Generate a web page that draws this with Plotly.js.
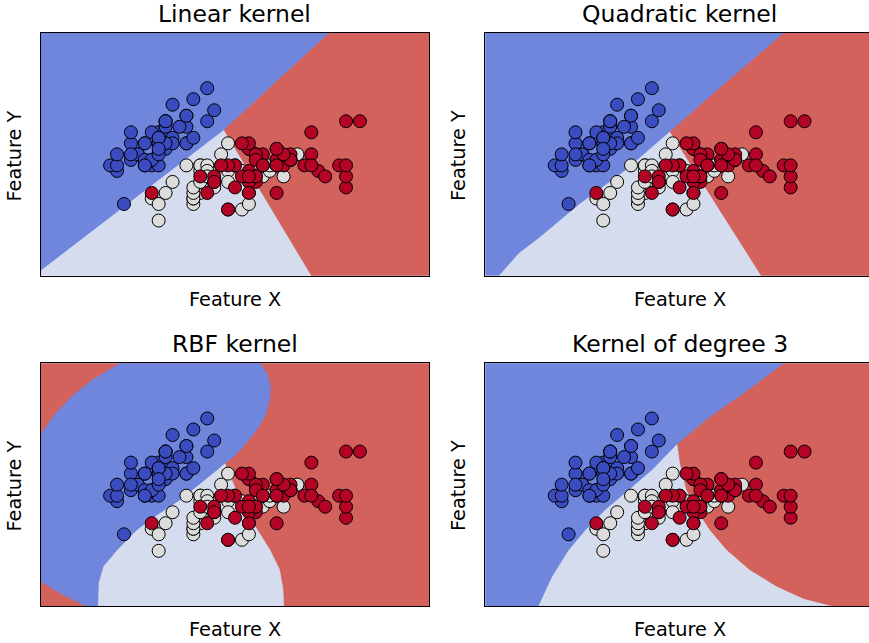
<!DOCTYPE html>
<html><head><meta charset="utf-8">
<script src="https://cdn.plot.ly/plotly-3.0.1.min.js"></script>
<style>html,body{margin:0;padding:0;background:#fff}#chart{width:869px;height:643px}</style>
</head><body><div id="chart"></div>
<script>
// ---- data: iris sepal length (Feature X) / sepal width (Feature Y) ----
const setosaX = [5.1,4.9,4.7,4.6,5.0,5.4,4.6,5.0,4.4,4.9,5.4,4.8,4.8,4.3,5.8,5.7,5.4,5.1,5.7,5.1,5.4,5.1,4.6,5.1,4.8,5.0,5.0,5.2,5.2,4.7,4.8,5.4,5.2,5.5,4.9,5.0,5.5,4.9,4.4,5.1,5.0,4.5,4.4,5.0,5.1,4.8,5.1,4.6,5.3,5.0];
const setosaY = [3.5,3.0,3.2,3.1,3.6,3.9,3.4,3.4,2.9,3.1,3.7,3.4,3.0,3.0,4.0,4.4,3.9,3.5,3.8,3.8,3.4,3.7,3.6,3.3,3.4,3.0,3.4,3.5,3.4,3.2,3.1,3.4,4.1,4.2,3.1,3.2,3.5,3.6,3.0,3.4,3.5,2.3,3.2,3.5,3.8,3.0,3.8,3.2,3.7,3.3];
const versicolorX = [7.0,6.4,6.9,5.5,6.5,5.7,6.3,4.9,6.6,5.2,5.0,5.9,6.0,6.1,5.6,6.7,5.6,5.8,6.2,5.6,5.9,6.1,6.3,6.1,6.4,6.6,6.8,6.7,6.0,5.7,5.5,5.5,5.8,6.0,5.4,6.0,6.7,6.3,5.6,5.5,5.5,6.1,5.8,5.0,5.6,5.7,5.7,6.2,5.1,5.7];
const versicolorY = [3.2,3.2,3.1,2.3,2.8,2.8,3.3,2.4,2.9,2.7,2.0,3.0,2.2,2.9,2.9,3.1,3.0,2.7,2.2,2.5,3.2,2.8,2.5,2.8,2.9,3.0,2.8,3.0,2.9,2.6,2.4,2.4,2.7,2.7,3.0,3.4,3.1,2.3,3.0,2.5,2.6,3.0,2.6,2.3,2.7,3.0,2.9,2.9,2.5,2.8];
const virginicaX = [6.3,5.8,7.1,6.3,6.5,7.6,4.9,7.3,6.7,7.2,6.5,6.4,6.8,5.7,5.8,6.4,6.5,7.7,7.7,6.0,6.9,5.6,7.7,6.3,6.7,7.2,6.2,6.1,6.4,7.2,7.4,7.9,6.4,6.3,6.1,7.7,6.3,6.4,6.0,6.9,6.7,6.9,5.8,6.8,6.7,6.7,6.3,6.5,6.2,5.9];
const virginicaY = [3.3,2.7,3.0,2.9,3.0,3.0,2.5,2.9,2.5,3.6,3.2,2.7,3.0,2.5,2.8,3.2,3.0,3.8,2.6,2.2,3.2,2.8,2.8,2.7,3.3,3.2,2.8,3.0,2.8,3.0,2.8,3.8,2.8,2.8,2.6,3.0,3.4,3.1,3.0,3.1,3.1,3.1,2.7,3.2,3.3,3.0,2.5,3.0,3.4,3.0];

const panelTitles = ['Linear kernel', 'Quadratic kernel', 'RBF kernel', 'Kernel of degree 3'];
const xLabel = 'Feature X';
const yLabel = 'Feature Y';

// ---- decision boundaries (data coordinates) ----
const linearBlueWhiteX = [3.3, 5.94];            const linearBlueWhiteY = [1.10, 3.65];
const linearBlueRedX   = [5.94, 7.445];          const linearBlueRedY   = [3.65, 5.4];
const linearWhiteRedX  = [5.94, 7.205];          const linearWhiteRedY  = [3.65, 1.0];

const quadBlueWhiteX = [3.49, 3.78, 4.09, 4.66, 5.31, 5.60, 5.96];
const quadBlueWhiteY = [1.0, 1.41, 1.71, 2.31, 2.91, 3.22, 3.62];
const quadBlueRedX   = [5.96, 6.73, 7.594];      const quadBlueRedY   = [3.62, 4.47, 5.4];
const quadWhiteRedX  = [5.96, 6.59, 7.28];       const quadWhiteRedY  = [3.62, 2.37, 1.0];

const rbfTopLeftX    = [3.3, 3.5, 3.75, 4.05, 4.45];
const rbfTopLeftY    = [4.10, 4.47, 4.80, 5.10, 5.4];
const rbfBottomLeftX = [3.3, 3.6, 3.96];
const rbfBottomLeftY = [1.45, 1.22, 1.0];
const rbfBlueWhiteX  = [4.12, 4.13, 4.20, 4.40, 4.68, 4.97, 5.31, 5.60, 5.84, 5.95];
const rbfBlueWhiteY  = [1.0, 1.42, 1.72, 2.02, 2.38, 2.65, 2.93, 3.23, 3.47, 3.59];
const rbfBlueRedX    = [5.95, 6.03, 6.22, 6.41, 6.53, 6.60, 6.61, 6.56, 6.46];
const rbfBlueRedY    = [3.59, 3.65, 3.89, 4.19, 4.44, 4.74, 4.98, 5.22, 5.4];
const rbfWhiteRedX   = [5.95, 6.03, 6.15, 6.36, 6.60, 6.74, 6.79, 6.80];
const rbfWhiteRedY   = [3.59, 3.35, 2.99, 2.50, 2.02, 1.66, 1.30, 1.0];

const cubicBlueWhiteX = [4.06, 4.26, 4.50, 4.74, 5.02, 5.36, 5.70, 6.07];
const cubicBlueWhiteY = [1.0, 1.54, 2.02, 2.38, 2.74, 3.11, 3.47, 3.95];
const cubicBlueRedX   = [6.07, 6.54, 7.02, 7.594];
const cubicBlueRedY   = [3.95, 4.44, 4.86, 5.4];
const cubicWhiteRedX  = [6.07, 6.11, 6.20, 6.35, 6.54, 6.78, 7.11, 7.50, 7.88, 8.31];
const cubicWhiteRedY  = [3.95, 3.59, 3.11, 2.74, 2.38, 2.02, 1.66, 1.36, 1.14, 1.0];

// ---- styles ----
const REGION_BLUE = '#6f86dc', REGION_LIGHT = '#d4dcee', REGION_RED = '#d3625d';
const PT_BLUE = '#3b4cc0', PT_LIGHT = '#dddcdc', PT_RED = '#b40426';

const allX = setosaX.concat(versicolorX, virginicaX);
const allY = setosaY.concat(versicolorY, virginicaY);
const XMIN = Math.min(...allX) - 1, XMAX = Math.max(...allX) + 1;
const YMIN = Math.min(...allY) - 1, YMAX = Math.max(...allY) + 1;

const W = 869, H = 643;
const leftL = 40.7, leftR = 429.3, rightL = 485.3, fullW = leftR - leftL;
const topT = 33, topB = 275.7, botT = 363.3, botB = 606;
const rightXMax = XMIN + (XMAX - XMIN) * (W - rightL) / fullW;

function region(xs, ys, color, n) {
  const s = n === 1 ? '' : String(n);
  return {type:'scatter', mode:'lines', x: xs, y: ys, fill:'toself', fillcolor: color,
    line:{width:0.8, color: color}, hoverinfo:'skip', showlegend:false, xaxis:'x'+s, yaxis:'y'+s};
}
const rev = a => a.slice().reverse();

function threeWay(bwX, bwY, brX, brY, wrX, wrY, n) {
  const red = region(brX.concat([XMAX, XMAX], rev(wrX)), brY.concat([YMAX, YMIN], rev(wrY)), REGION_RED, n);
  const blue = region(bwX.concat(brX.slice(1), [XMIN, XMIN]), bwY.concat(brY.slice(1), [YMAX, YMIN]), REGION_BLUE, n);
  return [red, blue];
}

function points(n) {
  const s = n === 1 ? '' : String(n);
  const mk = (xs, ys, c) => ({type:'scatter', mode:'markers', x: xs, y: ys, xaxis:'x'+s, yaxis:'y'+s,
    marker:{size:13, color:c, line:{color:'#000', width:1}}, hoverinfo:'skip', showlegend:false, cliponaxis:false});
  return [mk(setosaX, setosaY, PT_BLUE), mk(versicolorX, versicolorY, PT_LIGHT), mk(virginicaX, virginicaY, PT_RED)];
}

const traces = [];
traces.push(...threeWay(linearBlueWhiteX, linearBlueWhiteY, linearBlueRedX, linearBlueRedY, linearWhiteRedX, linearWhiteRedY, 1));
traces.push(...points(1));
traces.push(...threeWay(quadBlueWhiteX, quadBlueWhiteY, quadBlueRedX, quadBlueRedY, quadWhiteRedX, quadWhiteRedY, 2));
traces.push(...points(2));
// RBF: red background, white and blue regions on top
traces.push(region(rbfBlueWhiteX.concat(rbfWhiteRedX.slice(1)), rbfBlueWhiteY.concat(rbfWhiteRedY.slice(1)), REGION_LIGHT, 3));
traces.push(region(rbfTopLeftX.concat(rev(rbfBlueRedX), rev(rbfBlueWhiteX), rev(rbfBottomLeftX)),
                   rbfTopLeftY.concat(rev(rbfBlueRedY), rev(rbfBlueWhiteY), rev(rbfBottomLeftY)), REGION_BLUE, 3));
traces.push(...points(3));
traces.push(...threeWay(cubicBlueWhiteX, cubicBlueWhiteY, cubicBlueRedX, cubicBlueRedY, cubicWhiteRedX, cubicWhiteRedY, 4));
traces.push(...points(4));

function ax(domain, range, anchor, mirror) {
  return {domain: domain, range: range, anchor: anchor, showticklabels:false, ticks:'', showgrid:false,
    zeroline:false, showline:true, linecolor:'#000', linewidth:1, mirror: mirror, fixedrange:true};
}
const dxL = [leftL / W, leftR / W], dxR = [rightL / W, 1];
const dyT = [1 - topB / H, 1 - topT / H], dyB = [1 - botB / H, 1 - botT / H];

const FONT = 'DejaVu Sans, Arial, sans-serif';
function ann(text, px, py, size, angle) {
  return {text: text, x: px / W, y: 1 - py / H, xref:'paper', yref:'paper', showarrow:false,
    xanchor:'center', yanchor:'middle', textangle: angle || 0, font:{family: FONT, size: size, color:'#000'}};
}
const cL = (leftL + leftR) / 2, cR = rightL + fullW / 2;
const annotations = [
  ann(panelTitles[0], cL, 13.8, 23.5), ann(panelTitles[1], cR, 13.8, 23.5),
  ann(panelTitles[2], cL, 343.8, 23.5), ann(panelTitles[3], cR, 343.8, 23.5),
  ann(xLabel, cL, 299, 19.3), ann(xLabel, cR, 299, 19.3),
  ann(xLabel, cL, 629, 19.3), ann(xLabel, cR, 629, 19.3),
  ann(yLabel, 14.7, 155.8, 19.3, -90), ann(yLabel, 459.2, 155.8, 19.3, -90),
  ann(yLabel, 14.7, 485.8, 19.3, -90), ann(yLabel, 459.2, 485.8, 19.3, -90)
];

const layout = {
  width: W, height: H, margin:{l:0, r:0, t:0, b:0},
  paper_bgcolor:'#fff', plot_bgcolor: REGION_LIGHT, showlegend:false,
  font:{family: FONT, color:'#000'},
  xaxis:  ax(dxL, [XMIN, XMAX], 'y', true),   yaxis:  ax(dyT, [YMIN, YMAX], 'x', true),
  xaxis2: ax(dxR, [XMIN, rightXMax], 'y2', true), yaxis2: ax(dyT, [YMIN, YMAX], 'x2', false),
  xaxis3: ax(dxL, [XMIN, XMAX], 'y3', true),  yaxis3: ax(dyB, [YMIN, YMAX], 'x3', true),
  xaxis4: ax(dxR, [XMIN, rightXMax], 'y4', true), yaxis4: ax(dyB, [YMIN, YMAX], 'x4', false),
  shapes: [{type:'rect', xref:'x3 domain', yref:'y3 domain', x0:0, x1:1, y0:0, y1:1,
            fillcolor: REGION_RED, line:{width:0}, layer:'below'}],
  annotations: annotations
};

Plotly.newPlot('chart', traces, layout, {displayModeBar:false, staticPlot:true});
</script>
</body></html>
